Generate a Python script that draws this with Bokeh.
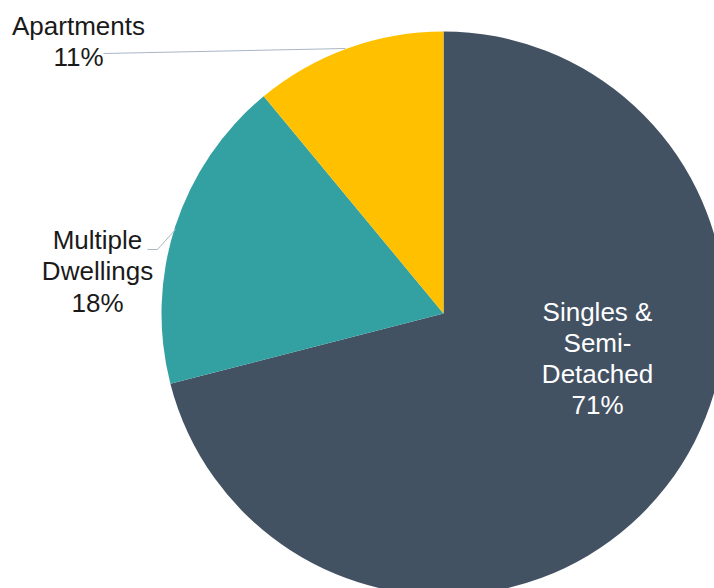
import numpy as np
from bokeh.plotting import figure
from bokeh.models import Range1d, ColumnDataSource
from bokeh.core.properties import value
from bokeh.embed import file_html
from bokeh.resources import INLINE

# Data
categories = ["Singles & Semi-Detached", "Multiple Dwellings", "Apartments"]
shares = [71, 18, 11]
label_texts = ["Singles &\nSemi-\nDetached\n71%", "Multiple\nDwellings\n18%", "Apartments\n11%"]
colors = ["#435263", "#33A0A2", "#FFC000"]

W, H = 714, 588
cx, cy, R = 443, H - 313, 282

fr = np.array(shares, dtype=float) / sum(shares)
cum = np.concatenate([[0], np.cumsum(fr)])
start = np.pi / 2 - 2 * np.pi * cum[:-1]
end = np.pi / 2 - 2 * np.pi * cum[1:]

p = figure(width=W, height=H, output_backend="svg", toolbar_location=None,
           x_range=Range1d(0, W), y_range=Range1d(0, H),
           min_border=0, outline_line_color=None, background_fill_color="white",
           border_fill_color="white")
p.axis.visible = False
p.grid.visible = False

src = ColumnDataSource(dict(start=start, end=end, color=colors, cat=categories))
p.wedge(x=cx, y=cy, radius=R, start_angle="start", end_angle="end", direction="clock",
        fill_color="color", line_color=None, source=src)

# leader lines (layout)
p.line(x=[103, 345], y=[H - 53, H - 48], line_color="#A9B6C4", line_width=1)
p.line(x=[147, 157, 175], y=[H - 249, H - 249, H - 229], line_color="#A9B6C4", line_width=1)

# labels (layout positions)
lx = [597, 97, 78]
ly = [H - 358, H - 271, H - 41]
lcol = ["white", "#1A1A1A", "#1A1A1A"]
p.text(x=lx, y=ly, text=label_texts, text_color=lcol, text_align="center",
       text_baseline="middle", text_font=value("Liberation Sans"),
       text_font_size="26px", text_line_height=1.04)

open("out.html", "w").write(file_html(p, INLINE))
